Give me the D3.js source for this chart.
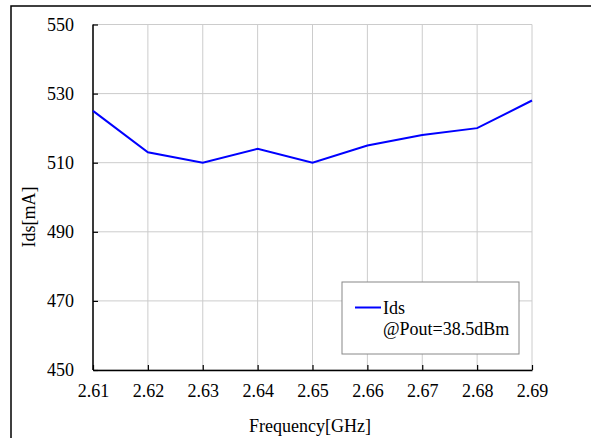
<!DOCTYPE html>
<html><head><meta charset="utf-8">
<script src="https://cdn.jsdelivr.net/npm/d3@7"></script>
<style>body{margin:0;background:#fff}svg{display:block}</style>
</head><body>
<script>
const freqs = [2.61, 2.62, 2.63, 2.64, 2.65, 2.66, 2.67, 2.68, 2.69];
const ids = [525, 513, 510, 514, 510, 515, 518, 520, 528];
const yTicks = [450, 470, 490, 510, 530, 550];
const xLabel = "Frequency[GHz]";
const yLabel = "Ids[mA]";
const legendLines = ["Ids", "@Pout=38.5dBm"];

const FONT = "'Liberation Serif', 'Times New Roman', Tinos, 'DejaVu Serif', serif";
const FS = 18;
const W = 591, H = 438;
const m = {left: 93, right: 59, top: 24.5, bottom: 68};
const svg = d3.select("body").append("svg").attr("width", W).attr("height", H)
  .attr("font-family", FONT);
svg.append("rect").attr("x", 11).attr("y", 6).attr("width", 700).attr("height", 600)
  .attr("fill", "none").attr("stroke", "#000").attr("stroke-width", 1.5);

const x = d3.scaleLinear().domain([2.61, 2.69]).range([m.left, W - m.right]);
const y = d3.scaleLinear().domain([450, 550]).range([H - m.bottom, m.top]);

const g = svg.append("g");
g.selectAll("line.vg").data(freqs).join("line").attr("class", "vg")
  .attr("x1", d => x(d)).attr("x2", d => x(d)).attr("y1", y(450)).attr("y2", y(550))
  .attr("stroke", "#cccccc").attr("stroke-width", 1);
g.selectAll("line.hg").data(yTicks).join("line").attr("class", "hg")
  .attr("y1", d => y(d)).attr("y2", d => y(d)).attr("x1", x(2.61)).attr("x2", x(2.69))
  .attr("stroke", "#cccccc").attr("stroke-width", 1);

const xAxis = d3.axisBottom(x).tickValues(freqs).tickFormat(d3.format(".2f")).tickSizeInner(-5).tickSizeOuter(0).tickPadding(14);
const gx = svg.append("g").attr("transform", `translate(0,${y(450)})`).call(xAxis);
const yAxis = d3.axisLeft(y).tickValues(yTicks).tickSizeInner(-5).tickSizeOuter(0).tickPadding(19);
const gy = svg.append("g").attr("transform", `translate(${x(2.61)},0)`).call(yAxis);
[gx, gy].forEach(a => {
  a.attr("font-family", FONT).attr("font-size", FS);
  a.selectAll("text").attr("fill", "#000");
  a.selectAll("line").attr("stroke", "#000").attr("stroke-width", 1.2);
  a.select(".domain").attr("stroke", "#000").attr("stroke-width", 1.5);
});
gy.select(".domain").remove();
svg.append("line").attr("x1", x(2.61)).attr("x2", x(2.61)).attr("y1", y(550)).attr("y2", y(450))
  .attr("stroke", "#000").attr("stroke-width", 1.5);

svg.append("path").datum(freqs.map((f, i) => [f, ids[i]]))
  .attr("fill", "none").attr("stroke", "#0000ff").attr("stroke-width", 2)
  .attr("d", d3.line().x(d => x(d[0])).y(d => y(d[1])));

svg.append("text").attr("x", 310).attr("y", 432).attr("text-anchor", "middle")
  .attr("font-size", FS).text(xLabel);
svg.append("text").attr("transform", `translate(35,217) rotate(-90)`).attr("text-anchor", "middle")
  .attr("font-size", FS).text(yLabel);

const lg = svg.append("g");
lg.append("rect").attr("x", 342).attr("y", 282).attr("width", 177).attr("height", 72)
  .attr("fill", "#fff").attr("stroke", "#888").attr("stroke-width", 1);
lg.append("line").attr("x1", 355).attr("x2", 381).attr("y1", 307.5).attr("y2", 307.5)
  .attr("stroke", "#0000ff").attr("stroke-width", 2);
lg.selectAll("text").data(legendLines).join("text")
  .attr("x", 383).attr("y", (d, i) => 314 + i * 21).attr("font-size", FS).text(d => d);
</script>
</body></html>
